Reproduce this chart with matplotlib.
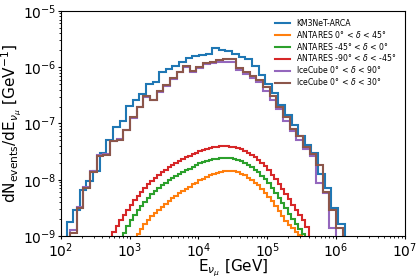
import numpy as np
import matplotlib
matplotlib.use("Agg")
import matplotlib.pyplot as plt

# log10 bin edges (energy in GeV)
km3_edges = np.linspace(2.083, 6.123, 43)
icecube_edges = np.linspace(2.134, 6.097, 42)
antares_edges = np.round(np.arange(2.75, 5.6001, 0.05), 2)

# log10 of dN/dE per bin
km3net_arca = [-8.75, -8.54, -8.18, -8.02, -7.84, -7.53, -7.30, -7.07, -6.95, -6.69,
               -6.59, -6.48, -6.29, -6.26, -6.08, -6.04, -5.98, -5.90, -5.83, -5.80,
               -5.78, -5.77, -5.66, -5.69, -5.72, -5.77, -5.81, -5.86, -5.97, -6.14,
               -6.29, -6.46, -6.67, -6.85, -7.03, -7.22, -7.38, -7.53, -7.89, -8.15,
               -8.51, -8.79]

antares_0_45 = [-9.9, -9.8, -9.6, -9.45, -9.3, -9.15, -9.05, -8.96, -8.87, -8.79,
                -8.72, -8.65, -8.59, -8.53, -8.48, -8.43, -8.38, -8.33, -8.28, -8.24,
                -8.20, -8.16, -8.12, -8.08, -8.05, -8.01, -7.98, -7.95, -7.92, -7.90,
                -7.88, -7.86, -7.85, -7.84, -7.84, -7.85, -7.87, -7.89, -7.92, -7.96,
                -8.00, -8.05, -8.10, -8.16, -8.23, -8.30, -8.38, -8.47, -8.56, -8.65,
                -8.73, -8.80, -8.86, -8.92, -8.98, -9.3, -9.5]

antares_m45_0 = [-9.6, -9.4, -9.2, -8.95, -8.83, -8.72, -8.63, -8.54, -8.46, -8.39,
                 -8.32, -8.26, -8.20, -8.15, -8.10, -8.06, -8.01, -7.97, -7.93, -7.89,
                 -7.86, -7.83, -7.80, -7.77, -7.74, -7.71, -7.69, -7.67, -7.65, -7.64,
                 -7.63, -7.62, -7.61, -7.61, -7.62, -7.63, -7.65, -7.67, -7.70, -7.74,
                 -7.78, -7.82, -7.87, -7.93, -7.99, -8.06, -8.14, -8.23, -8.32, -8.41,
                 -8.51, -8.61, -8.70, -8.79, -8.88, -8.97, -9.3]

antares_m90_m45 = [-8.93, -8.82, -8.72, -8.62, -8.53, -8.44, -8.36, -8.28, -8.21, -8.14,
                   -8.08, -8.02, -7.97, -7.92, -7.87, -7.83, -7.78, -7.74, -7.70, -7.66,
                   -7.63, -7.60, -7.57, -7.54, -7.52, -7.49, -7.47, -7.45, -7.43, -7.42,
                   -7.41, -7.40, -7.40, -7.40, -7.41, -7.42, -7.44, -7.46, -7.49, -7.52,
                   -7.56, -7.60, -7.65, -7.70, -7.76, -7.83, -7.91, -7.99, -8.07, -8.16,
                   -8.26, -8.35, -8.44, -8.53, -8.62, -8.72, -8.84]

icecube_0_90 = [-8.90, -8.49, -8.12, -7.84, -7.56, -7.54, -7.31, -7.28, -7.12, -6.90,
                -6.70, -6.53, -6.59, -6.44, -6.33, -6.21, -6.09, -6.00, -6.09, -6.01,
                -5.95, -5.92, -5.90, -5.90, -5.91, -6.05, -6.12, -6.20, -6.26, -6.42,
                -6.58, -6.74, -6.95, -7.13, -7.30, -7.46, -7.58, -8.06, -8.23, -8.86,
                -9.5]

icecube_0_30 = [-8.95, -8.51, -8.15, -7.86, -7.58, -7.56, -7.32, -7.29, -7.12, -6.89,
                -6.70, -6.52, -6.58, -6.43, -6.32, -6.20, -6.08, -5.98, -6.07, -5.99,
                -5.93, -5.90, -5.87, -5.86, -5.86, -6.01, -6.08, -6.15, -6.22, -6.36,
                -6.52, -6.70, -6.88, -7.09, -7.23, -7.41, -7.55, -7.74, -8.21, -8.54,
                -8.86]

series = [
    ("KM3NeT-ARCA", km3net_arca, km3_edges, "C0"),
    (r"ANTARES 0° < $\delta$ < 45°", antares_0_45, antares_edges, "C1"),
    (r"ANTARES -45° < $\delta$ < 0°", antares_m45_0, antares_edges, "C2"),
    (r"ANTARES -90° < $\delta$ < -45°", antares_m90_m45, antares_edges, "C3"),
    (r"IceCube 0° < $\delta$ < 90°", icecube_0_90, icecube_edges, "C4"),
    (r"IceCube 0° < $\delta$ < 30°", icecube_0_30, icecube_edges, "C5"),
]

fig = plt.figure(figsize=(4.2, 2.8), dpi=100)
ax = fig.add_axes([0.145, 0.157, 0.819, 0.804])

for label, vals, edges, color in series:
    ax.stairs(10 ** np.array(vals), 10 ** edges, baseline=1e-12,
              color=color, lw=1.5, label=label)

ax.set_xscale("log")
ax.set_yscale("log")
ax.set_xlim(1e2, 1e7)
ax.set_ylim(1e-9, 1e-5)
ax.tick_params(which="major", labelsize=10, pad=1, length=2.5)
ax.tick_params(which="minor", length=1.5)
ax.set_xlabel(r"E$_{\nu_\mu}$ [GeV]", fontsize=11, labelpad=-1)
ax.set_ylabel(r"dN$_{\rm events}$/dE$_{\nu_\mu}$ [GeV$^{-1}$]", fontsize=11, labelpad=0)
ax.legend(loc="upper right", frameon=False, fontsize=5.6, labelspacing=0.12,
          borderaxespad=0.6)

fig.savefig("out.png", dpi=100)
